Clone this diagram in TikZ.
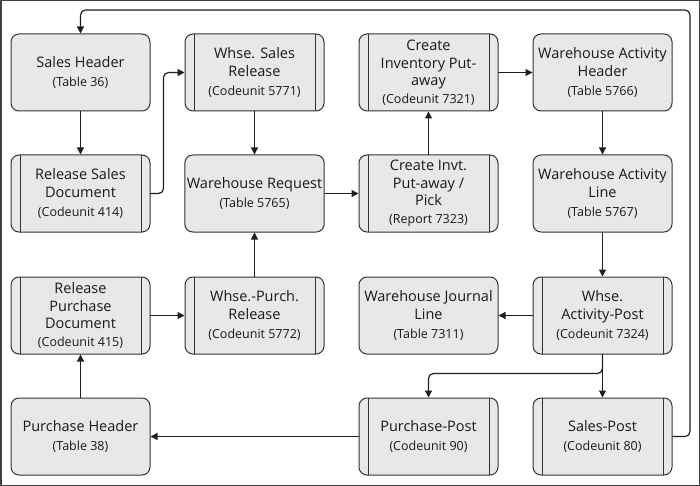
\documentclass[tikz,border=0pt]{standalone}
\usepackage{fontspec}
\setmainfont{Open Sans}
\usetikzlibrary{arrows.meta}
\newcommand{\objref}[1]{{\fontsize{12.5}{15}\selectfont(#1)}}
\tikzset{
    tablebox/.style={rectangle, rounded corners=8pt, draw=black!80, fill=black!9,
        line width=1pt, minimum width=139pt, minimum height=77pt, align=center,
        font=\fontsize{14.5}{17.5}\selectfont, inner sep=2pt, text=black!90},
    codebox/.style={tablebox, path picture={
        \draw[black!80, line width=1pt]
            ([xshift=9pt]path picture bounding box.north west) -- ([xshift=9pt]path picture bounding box.south west)
            ([xshift=-9pt]path picture bounding box.north east) -- ([xshift=-9pt]path picture bounding box.south east);}},
    flow/.style={draw=black!88, line width=1.2pt, rounded corners=5pt, -{Triangle[length=7pt,width=7pt]}}
}
\begin{document}
\begin{tikzpicture}[line cap=round, line join=round, x=1pt, y=-1pt]
                \useasboundingbox (0,0) rectangle (700,486);
                \draw[black!75, line width=1.5pt] (0.75,0.75) rectangle (699.25,485.25);
                \node[tablebox] (sh) at (80.5,72.5) {Sales Header\\[2pt]\objref{Table 36}};
                \node[codebox] (wsr) at (254.5,72.5) {Whse. Sales\\Release\\[2pt]\objref{Codeunit 5771}};
                \node[codebox] (cip) at (428.5,72.5) {Create\\Inventory Put-\\away\\\objref{Codeunit 7321}};
                \node[tablebox] (wah) at (602.5,72.5) {Warehouse Activity\\Header\\[2pt]\objref{Table 5766}};
                \node[codebox] (rsd) at (80.5,193.5) {Release Sales\\Document\\[2pt]\objref{Codeunit 414}};
                \node[tablebox] (wr) at (254.5,193.5) {Warehouse Request\\[2pt]\objref{Table 5765}};
                \node[codebox] (cipp) at (428.5,193.5) {Create Invt.\\Put-away /\\Pick\\\objref{Report 7323}};
                \node[tablebox] (wal) at (602.5,193.5) {Warehouse Activity\\Line\\[2pt]\objref{Table 5767}};
                \node[codebox] (rpd) at (80.5,315.5) {Release\\Purchase\\Document\\\objref{Codeunit 415}};
                \node[codebox] (wpr) at (254.5,315.5) {Whse.-Purch.\\Release\\[2pt]\objref{Codeunit 5772}};
                \node[tablebox] (wjl) at (428.5,315.5) {Warehouse Journal\\Line\\[2pt]\objref{Table 7311}};
                \node[codebox] (wap) at (602.5,315.5) {Whse.\\Activity-Post\\[2pt]\objref{Codeunit 7324}};
                \node[tablebox] (ph) at (80.5,436.5) {Purchase Header\\[2pt]\objref{Table 38}};
                \node[codebox] (pp) at (428.5,436.5) {Purchase-Post\\[2pt]\objref{Codeunit 90}};
                \node[codebox] (sp) at (602.5,436.5) {Sales-Post\\[2pt]\objref{Codeunit 80}};
                \coordinate (loop) at (690,10);
                \foreach \from/\to in {sh/rsd, wsr/wr, wpr/wr, wr/cipp, cipp/cip, cip/wah, wah/wal, wal/wap, wap/wjl, wap/sp, pp/ph, rpd/wpr, ph/rpd}
                    \draw[flow] (\from) -- (\to);
                \draw[flow] (rsd.east) -- ++(13,0) |- (wsr.west);
                \draw[flow] (wap.south) -- ++(0,19) -| (pp.north);
                \draw[flow] (sp.east) -| (loop) -| (sh.north);
            \end{tikzpicture}
\end{document}
